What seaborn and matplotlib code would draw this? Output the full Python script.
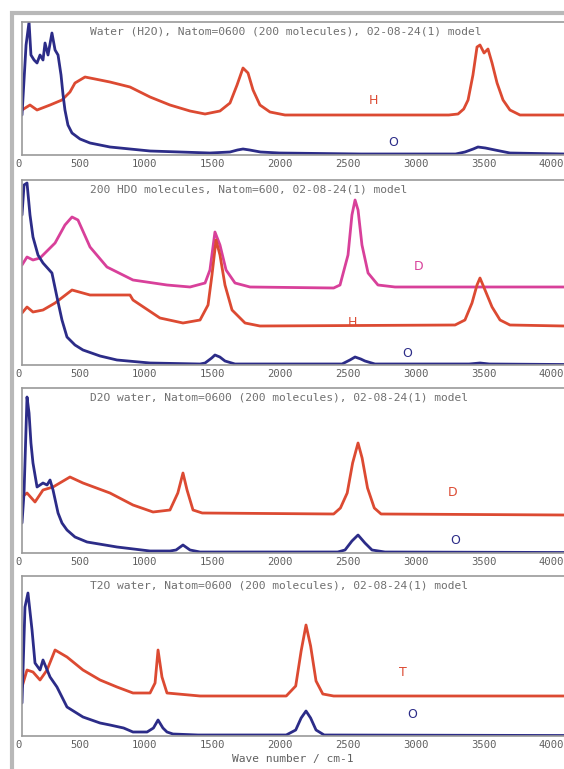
import matplotlib
matplotlib.use("Agg")
import matplotlib.pyplot as plt
import seaborn as sns
import pandas as pd
from matplotlib.patches import Rectangle

# ---- data (wave number in cm-1, intensity in arbitrary units) ----
titles = [
    "Water (H2O), Natom=0600 (200 molecules), 02-08-24(1) model",
    "200 HDO molecules, Natom=600, 02-08-24(1) model",
    "D2O water, Natom=0600 (200 molecules), 02-08-24(1) model",
    "T2O water, Natom=0600 (200 molecules), 02-08-24(1) model",
]
tick_values = [0, 500, 1000, 1500, 2000, 2500, 3000, 3500, 4000]
tick_labels = ["0", "500", "1000", "1500", "2000", "2500", "3000", "3500", "4000"]

# panel 1 : H2O
h2o_o_wn = [0, 30, 52, 66, 89, 111, 133, 155, 170, 192, 221, 244, 266, 288, 303, 317, 339,
            369, 428, 502, 649, 797, 945, 1166, 1387, 1535, 1590, 1631, 1680, 1760, 1900,
            2500, 3200, 3269, 3330, 3365, 3420, 3491, 3601, 4000]
h2o_o_int = [40, 110, 133, 100, 95, 92, 100, 95, 112, 100, 122, 105, 100, 80, 60, 45, 30,
             22, 16, 12, 8, 6, 4, 3, 2, 3, 5, 6, 5, 3, 2,
             1, 1, 3, 6, 8, 7, 5, 2, 1]
h2o_h_wn = [0, 59, 111, 207, 295, 354, 391, 465, 539, 649, 797, 945, 1092, 1240, 1351, 1461,
            1535, 1587, 1631, 1668, 1705, 1756, 1830, 1941, 2600, 3150, 3218, 3260, 3292,
            3328, 3358, 3380, 3410, 3439, 3469, 3506, 3550, 3601, 3675, 4000]
h2o_h_int = [45, 50, 45, 50, 55, 63, 72, 78, 76, 73, 68, 58, 50, 44, 41, 44,
             52, 70, 87, 82, 65, 50, 43, 40, 40, 40, 41, 46, 55,
             80, 108, 110, 102, 106, 92, 72, 55, 45, 40, 40]

# panel 2 : HDO
hdo_o_wn = [0, 15, 37, 59, 81, 118, 155, 221, 258, 295, 332, 391, 450, 576, 701, 945,
            1314, 1351, 1400, 1424, 1460, 1498, 1572, 2300, 2362, 2420, 2458, 2500, 2531,
            2605, 3300, 3380, 3450, 4000]
hdo_o_int = [150, 180, 182, 150, 128, 110, 102, 92, 68, 45, 28, 20, 15, 9, 5, 2,
             1, 2, 7, 10, 8, 4, 1, 1, 1, 5, 8, 6, 4,
             1, 1, 2, 1, 0.5]
hdo_d_wn = [0, 37, 81, 133, 244, 317, 369, 413, 502, 627, 819, 1070, 1240, 1351, 1387,
            1424, 1461, 1506, 1572, 1683, 2300, 2347, 2406, 2435, 2458, 2480, 2509, 2554,
            2627, 2753, 4000]
hdo_d_int = [100, 108, 105, 107, 122, 140, 148, 145, 118, 98, 85, 80, 78, 82, 95,
             133, 120, 95, 82, 78, 77, 80, 110, 150, 165, 155, 120, 92,
             80, 78, 78]
hdo_h_wn = [0, 37, 81, 155, 244, 369, 502, 797, 819, 1018, 1188, 1314, 1373, 1402, 1432,
            1461, 1498, 1550, 1646, 1756, 3196, 3269, 3321, 3358, 3380, 3417, 3469, 3528,
            3601, 4000]
hdo_h_int = [52, 58, 53, 55, 62, 75, 70, 70, 65, 47, 42, 45, 60, 90, 125,
             110, 80, 55, 42, 39, 40, 45, 62, 80, 87, 75, 58, 45,
             40, 39]

# panel 3 : D2O
d2o_o_wn = [0, 15, 37, 52, 66, 81, 111, 155, 185, 207, 229, 266, 295, 332, 391, 480, 701,
            945, 1092, 1137, 1188, 1240, 1314, 2330, 2384, 2435, 2480, 2531, 2583, 2679, 4000]
d2o_o_int = [30, 60, 156, 140, 110, 90, 66, 70, 68, 73, 63, 40, 30, 23, 16, 11, 6,
             2, 2, 3, 8, 3, 1, 1, 3, 12, 18, 10, 3, 1, 0.5]
d2o_d_wn = [0, 37, 96, 155, 229, 354, 450, 649, 819, 967, 1092, 1150, 1188, 1218, 1262,
            1330, 2300, 2350, 2400, 2440, 2480, 2510, 2550, 2600, 2650, 4000]
d2o_d_int = [56, 60, 51, 63, 66, 76, 70, 60, 48, 41, 43, 60, 80, 63, 43,
             40, 39, 45, 60, 90, 110, 95, 65, 45, 39, 38]

# panel 4 : T2O
t2o_o_wn = [0, 22, 44, 74, 96, 133, 155, 207, 258, 332, 450, 576, 649, 750, 819, 923, 970,
            1004, 1040, 1070, 1114, 1300, 1950, 2020, 2060, 2096, 2130, 2170, 2230, 4000]
t2o_o_int = [33, 129, 143, 106, 73, 66, 76, 59, 49, 29, 19, 13, 11, 8, 4, 4, 8,
             16, 8, 4, 2, 1, 1, 6, 18, 25, 18, 6, 1, 0.5]
t2o_t_wn = [0, 37, 81, 133, 185, 244, 332, 450, 576, 701, 819, 945, 982, 1004, 1033, 1070,
            1314, 1950, 2020, 2060, 2096, 2130, 2170, 2220, 2300, 4000]
t2o_t_int = [49, 66, 64, 56, 66, 86, 79, 66, 56, 49, 43, 43, 53, 86, 59, 43,
             40, 40, 50, 85, 111, 90, 55, 42, 40, 40]

# curve labels: (text, wave number, intensity, colour key)
labels_p1 = [("H", 2590, 54, "red"), ("O", 2738, 12, "blue")]
labels_p2 = [("D", 2923, 98, "magenta"), ("H", 2435, 43, "red"), ("O", 2841, 12, "blue")]
labels_p3 = [("D", 3181, 60, "red"), ("O", 3196, 13, "blue")]
labels_p4 = [("T", 2812, 64, "red"), ("O", 2878, 21, "blue")]

colors = {"red": "#dc4a32", "blue": "#2c2c88", "magenta": "#d8409a"}

panels = [
    {"series": [(h2o_h_wn, h2o_h_int, "red"), (h2o_o_wn, h2o_o_int, "blue")],
     "labels": labels_p1, "ymax": 133, "box": (22, 155)},
    {"series": [(hdo_d_wn, hdo_d_int, "magenta"), (hdo_h_wn, hdo_h_int, "red"),
                (hdo_o_wn, hdo_o_int, "blue")],
     "labels": labels_p2, "ymax": 185, "box": (180, 365)},
    {"series": [(d2o_d_wn, d2o_d_int, "red"), (d2o_o_wn, d2o_o_int, "blue")],
     "labels": labels_p3, "ymax": 165, "box": (388, 553)},
    {"series": [(t2o_t_wn, t2o_t_int, "red"), (t2o_o_wn, t2o_o_int, "blue")],
     "labels": labels_p4, "ymax": 160, "box": (576, 736)},
]

sns.set_style("white")
plt.rcParams['font.family'] = ['DejaVu Sans Mono', 'DejaVu Sans']

W, H = 564, 769
fig = plt.figure(figsize=(W / 100, H / 100), dpi=100)

# outer grey frame
fig.patches.append(Rectangle((12 / W, -0.02), 1.0, 1 - 13 / H + 0.02, transform=fig.transFigure,
                             fill=False, ec="#b8b8b8", lw=3))

grey = "#7a7a7a"
for i, p in enumerate(panels):
    top, bot = p["box"]
    ax = fig.add_axes([22 / W, 1 - bot / H, (W - 22) / W, (bot - top) / H])
    for wn, inten, ck in p["series"]:
        df = pd.DataFrame({"wn": wn, "intensity": inten})
        sns.lineplot(data=df, x="wn", y="intensity", ax=ax, color=colors[ck], lw=2.0,
                     sort=False, estimator=None)
    for txt, x, y, ck in p["labels"]:
        ax.text(x, y, txt, color=colors[ck], fontsize=9, ha="center", va="center",
                family="DejaVu Sans")
    ax.set_xlim(0, 4000)
    ax.set_ylim(0, p["ymax"])
    ax.set_yticks([])
    ax.set_ylabel("")
    ax.set_xlabel("")
    ax.set_xticks(tick_values)
    ax.set_xticklabels(tick_labels, ha="right")
    ax.tick_params(axis="x", direction="in", length=3, color=grey, labelsize=7.6,
                   labelcolor="#606060", pad=3)
    for side in ["left", "bottom", "top"]:
        ax.spines[side].set_color("#9a9a9a")
        ax.spines[side].set_linewidth(1.2)
    ax.spines["right"].set_visible(False)
    ax.text(68 / (W - 22), 1 - 10 / (bot - top), titles[i], transform=ax.transAxes,
            fontsize=8.1, color="#707070", ha="left", va="center")
    if i == 3:
        ax.set_xlabel("Wave number / cm-1", fontsize=8.1, color="#606060", labelpad=3)

fig.savefig("out.png", dpi=100)
